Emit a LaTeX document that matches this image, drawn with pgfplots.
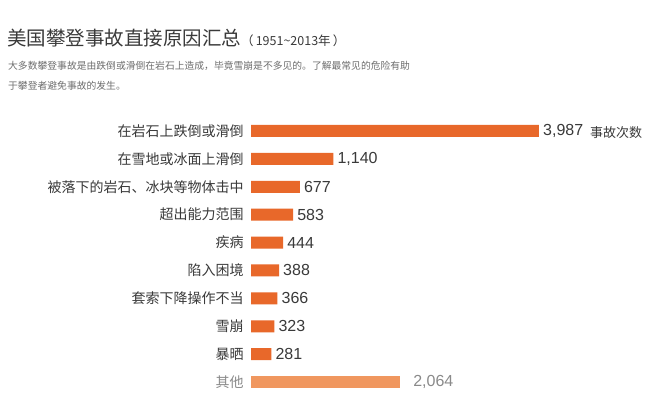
\documentclass[border=0pt]{standalone}
\usepackage{fontspec}
\setmainfont{Liberation Sans}
\newfontfamily\cjk{Noto Sans CJK SC}
\usepackage{pgfplots}
\pgfplotsset{compat=1.18}
\usepackage{pgfplotstable}
\definecolor{barmain}{HTML}{E8682A}
\definecolor{barother}{HTML}{F0975F}
\definecolor{labgray}{HTML}{3A3A3A}
\definecolor{subgray}{HTML}{6E6E6E}
\definecolor{othgray}{HTML}{8A8A8A}
\pgfplotstableread{
idx value label
0 3987 {3,987}
1 1140 {1,140}
2 677 {677}
3 583 {583}
4 444 {444}
5 388 {388}
6 366 {366}
7 323 {323}
8 281 {281}
}\maindata
\pgfplotstableread{
idx value label
9 2064 {2,064}
}\otherdata
\begin{document}
\begin{tikzpicture}[x=1bp,y=1bp]
\useasboundingbox (0,0) rectangle (650,397);
\fill[white] (0,0) rectangle (650,397);
% title
\node[anchor=base west, inner sep=0pt, text=labgray] at (7,352)
  {\fontsize{19.5bp}{22bp}\cjk 美国攀登事故直接原因汇总\fontsize{12.5bp}{14bp}\selectfont（\,1951\textasciitilde2013年\,）};
\node[anchor=base west, inner sep=0pt, text=subgray] at (8,328)
  {\fontsize{9.8bp}{12bp}\cjk 大多数攀登事故是由跌倒或滑倒在岩石上造成，毕竟雪崩是不多见的。了解最常见的危险有助};
\node[anchor=base west, inner sep=0pt, text=subgray] at (8,308)
  {\fontsize{9.8bp}{12bp}\cjk 于攀登者避免事故的发生。};
\begin{axis}[
  at={(251bp,1bp)}, anchor=south west,
  x=0.07223bp, y=27.9bp,
  xmin=0, xmax=5500, ymin=-0.5, ymax=9.5,
  y dir=reverse,
  axis line style={draw=none},
  tick style={draw=none},
  xtick=\empty,
  ytick={0,...,9},
  yticklabels={在岩石上跌倒或滑倒,在雪地或冰面上滑倒,被落下的岩石、冰块等物体击中,超出能力范围,疾病,陷入困境,套索下降操作不当,雪崩,暴晒,{\color{othgray}其他}},
  yticklabel style={font=\fontsize{14bp}{15bp}\cjk, text=labgray, inner sep=0pt, xshift=-3bp},
  clip=false,
  xbar, bar width=12bp,
  nodes near coords,
  point meta=explicit symbolic,
  every node near coord/.append style={font=\fontsize{16bp}{18bp}\selectfont, text=labgray, anchor=west, inner sep=0pt, xshift=4bp},
]
\addplot[fill=barmain, draw=none, bar shift=0pt] table[x=value, y=idx, meta=label] {\maindata};
\addplot[fill=barother, draw=none, bar shift=0pt, every node near coord/.append style={text=othgray, xshift=9bp}] table[x=value, y=idx, meta=label] {\otherdata};
\end{axis}
\node[anchor=west, inner sep=0pt, text=labgray] at (590,264) {\fontsize{13bp}{14bp}\cjk 事故次数};
\end{tikzpicture}
\end{document}
